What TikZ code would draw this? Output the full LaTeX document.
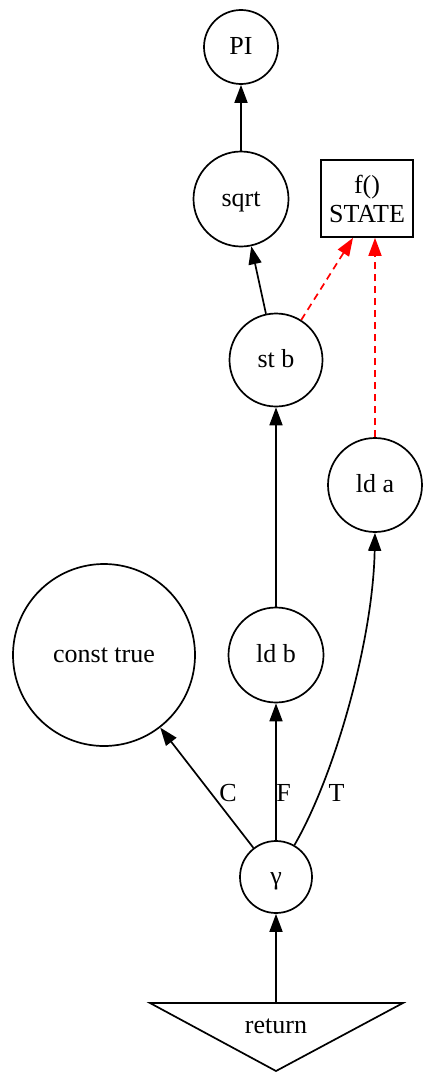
\documentclass[tikz,border=0pt]{standalone}
\usepackage{fontspec}
\setmainfont{Liberation Serif}
\usetikzlibrary{arrows.meta}
\begin{document}
\begin{tikzpicture}[x=1pt,y=-1pt,
  every node/.style={font=\fontsize{26}{29}\selectfont, text height=17.5pt, text depth=2.5pt, inner sep=0pt},
  opnode/.style={draw, circle, line width=1.7pt, minimum size=#1},
  statebox/.style={draw, rectangle, line width=1.7pt, minimum width=92pt, minimum height=77pt,
    align=center, text height=, text depth=},
  flow/.style={line width=1.7pt, -{Triangle[length=18pt,width=13pt]}},
  dep/.style={flow, red, dash pattern=on 7pt off 5pt}
]
\useasboundingbox (0,0) rectangle (425,1073);

% operation nodes
\node[opnode=74pt] (pi) at (241,47) {PI};
\node[opnode=95pt] (sqrt) at (241,199) {sqrt};
\node[statebox] (state) at (367,198.5) {f()\\STATE};
\node[opnode=93pt] (stb) at (276,360) {st b};
\node[opnode=94pt] (lda) at (375,485) {ld a};
\node[opnode=182pt] (ctrue) at (104,655) {const true};
\node[opnode=95pt] (ldb) at (276,655) {ld b};
\node[opnode=72pt] (gamma) at (276,877) {γ};

% return node (inverted triangle)
\draw[line width=1.7pt, line join=miter] (150,1003) -- (403,1003) -- (276,1071) -- cycle;
\coordinate (rettop) at (276,1003);
\node (ret) at (276,1025.5) {return};

% data flow
\draw[flow] (sqrt) -- (pi);
\draw[flow] (stb) -- (sqrt);
\draw[flow] (ldb) -- (stb);
\draw[flow] (gamma) -- (ctrue);
\draw[flow] (gamma) -- (ldb);
\draw[flow] (gamma.60) .. controls (335,775) and (373,640) .. (lda.south);
\draw[flow] (rettop) -- (gamma);

% state dependencies
\draw[dep] (stb) -- ([xshift=-14pt]state.south);
\draw[dep] (lda) -- (lda |- state.south);

% gamma branch labels
\node (lc) at (228,793.5) {C};
\node (lf) at (283.5,793.5) {F};
\node (lt) at (336.5,793.5) {T};
\end{tikzpicture}
\end{document}
